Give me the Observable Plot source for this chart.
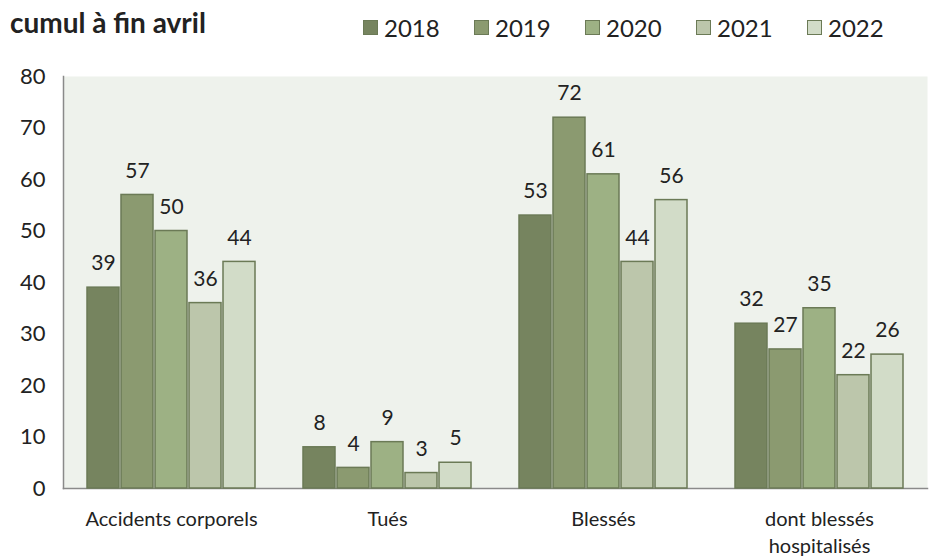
<!DOCTYPE html>
<html><head><meta charset="utf-8">
<script src="https://cdn.jsdelivr.net/npm/d3@7"></script>
<script src="https://cdn.jsdelivr.net/npm/@observablehq/plot@0.6"></script>
<style>
body{margin:0;background:#fff;font-family:Lato,"Open Sans",sans-serif;}
#wrap{position:relative;width:938px;height:557px;overflow:hidden;}
#head{position:relative;height:60px;}
#title{position:absolute;left:10px;top:5px;font-size:28px;font-weight:bold;color:#222;}
.lg{position:absolute;top:13px;font-size:24px;color:#222;display:flex;align-items:center;}
.sw{width:15px;height:15px;border:1.5px solid #6b7a56;margin-right:6px;box-sizing:border-box;}
</style></head>
<body><div id="wrap"><div id="head"><div id="title">cumul à fin avril</div></div><div id="chart"></div></div>
<script>
const categories = ["Accidents corporels", "Tués", "Blessés", "dont blessés hospitalisés"];
const categoryLabels = ["Accidents corporels", "Tués", "Blessés", "dont blessés\nhospitalisés"];
const years = ["2018", "2019", "2020", "2021", "2022"];
const v2018 = [39, 8, 53, 32];
const v2019 = [57, 4, 72, 27];
const v2020 = [50, 9, 61, 35];
const v2021 = [36, 3, 44, 22];
const v2022 = [44, 5, 56, 26];
const colors = ["#76845f", "#8b9a70", "#9db184", "#bcc6ab", "#d2dcc8"];
const yTicks = [0, 10, 20, 30, 40, 50, 60, 70, 80];

const series = [v2018, v2019, v2020, v2021, v2022];
const data = [];
categories.forEach((c, i) => years.forEach((y, j) => data.push({category: c, year: y, value: series[j][i]})));

// legend
const head = document.getElementById("head");
years.forEach((y, j) => {
  const d = document.createElement("div");
  d.className = "lg";
  d.style.left = (363 + j * 111) + "px";
  d.innerHTML = `<span class="sw" style="background:${colors[j]}"></span>${y}`;
  head.appendChild(d);
});

const plot = Plot.plot({
  width: 938,
  height: 497,
  marginTop: 16,
  marginBottom: 69,
  marginLeft: 61,
  marginRight: 10,
  style: {fontFamily: "Lato, 'Open Sans', sans-serif", color: "#222", background: "transparent"},
  fx: {domain: categories, padding: 0, label: null, axis: null},
  x: {domain: years, paddingInner: 0.06, paddingOuter: 0.64, axis: null},
  y: {domain: [0, 80], label: null, axis: null},
  color: {domain: years, range: colors},
  marks: [
    Plot.frame({facet: "super", fill: "#eef2ec", stroke: null}),
    Plot.frame({facet: "super", anchor: "left", stroke: "#8a8a8a", strokeWidth: 1.5}),
    Plot.frame({facet: "super", anchor: "bottom", stroke: "#8a8a8a", strokeWidth: 1.5}),
    Plot.axisY({ticks: yTicks, tickSize: 0, tickPadding: 18, fontSize: 22, label: null}),
    Plot.axisFx({anchor: "bottom", tickSize: 0, tickPadding: 18, fontSize: 20, lineHeight: 1.35, label: null,
      tickFormat: d => categoryLabels[categories.indexOf(d)]}),
    Plot.barY(data, {fx: "category", x: "year", y: "value", fill: "year", stroke: "#6b7a56", strokeWidth: 1.5}),
    Plot.text(data, {fx: "category", x: "year", y: "value", text: d => String(d.value), dy: -24, fontSize: 21, fill: "#222"})
  ]
});
document.getElementById("chart").appendChild(plot);
</script></body></html>
